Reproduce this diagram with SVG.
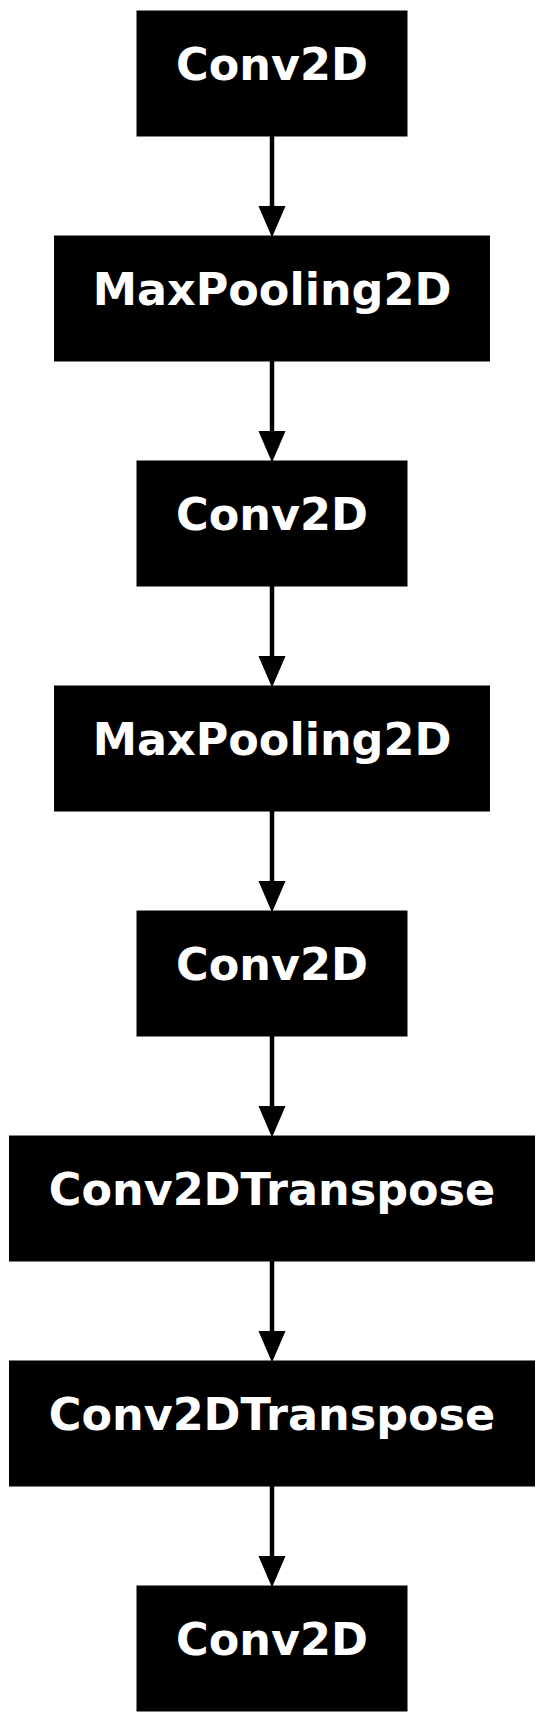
<svg xmlns="http://www.w3.org/2000/svg" width="544" height="1722" viewBox="0 0 544 1722">
<style>
.box{fill:#000;stroke:#000;stroke-width:1}
.lbl{fill:#fff;font-family:"DejaVu Sans",sans-serif;font-weight:bold;font-size:44.5px;text-anchor:middle}
.edge{stroke:#000;stroke-width:4.5;fill:none}
.head{fill:#000;stroke:#000;stroke-width:2}
</style>
<rect width="544" height="1722" fill="#fff"/>
<g id="connectors">
<line class="edge" x1="272" y1="136" x2="272" y2="208"/><polygon class="head" points="260,207 284,207 272,235"/>
<line class="edge" x1="272" y1="361" x2="272" y2="433"/><polygon class="head" points="260,432 284,432 272,460"/>
<line class="edge" x1="272" y1="586" x2="272" y2="658"/><polygon class="head" points="260,657 284,657 272,685"/>
<line class="edge" x1="272" y1="811" x2="272" y2="883"/><polygon class="head" points="260,882 284,882 272,910"/>
<line class="edge" x1="272" y1="1036" x2="272" y2="1108"/><polygon class="head" points="260,1107 284,1107 272,1135"/>
<line class="edge" x1="272" y1="1261" x2="272" y2="1333"/><polygon class="head" points="260,1332 284,1332 272,1360"/>
<line class="edge" x1="272" y1="1486" x2="272" y2="1558"/><polygon class="head" points="260,1557 284,1557 272,1585"/>
</g>
<g id="node1"><rect class="box" x="137" y="11" width="270" height="125"/><text class="lbl" x="272" y="80">Conv2D</text></g>
<g id="node2"><rect class="box" x="54.5" y="236" width="435" height="125"/><text class="lbl" x="272" y="305">MaxPooling2D</text></g>
<g id="node3"><rect class="box" x="137" y="461" width="270" height="125"/><text class="lbl" x="272" y="530">Conv2D</text></g>
<g id="node4"><rect class="box" x="54.5" y="686" width="435" height="125"/><text class="lbl" x="272" y="755">MaxPooling2D</text></g>
<g id="node5"><rect class="box" x="137" y="911" width="270" height="125"/><text class="lbl" x="272" y="980">Conv2D</text></g>
<g id="node6"><rect class="box" x="9.5" y="1136" width="525" height="125"/><text class="lbl" x="272" y="1205">Conv2DTranspose</text></g>
<g id="node7"><rect class="box" x="9.5" y="1361" width="525" height="125"/><text class="lbl" x="272" y="1430">Conv2DTranspose</text></g>
<g id="node8"><rect class="box" x="137" y="1586" width="270" height="125"/><text class="lbl" x="272" y="1655">Conv2D</text></g>
</svg>
